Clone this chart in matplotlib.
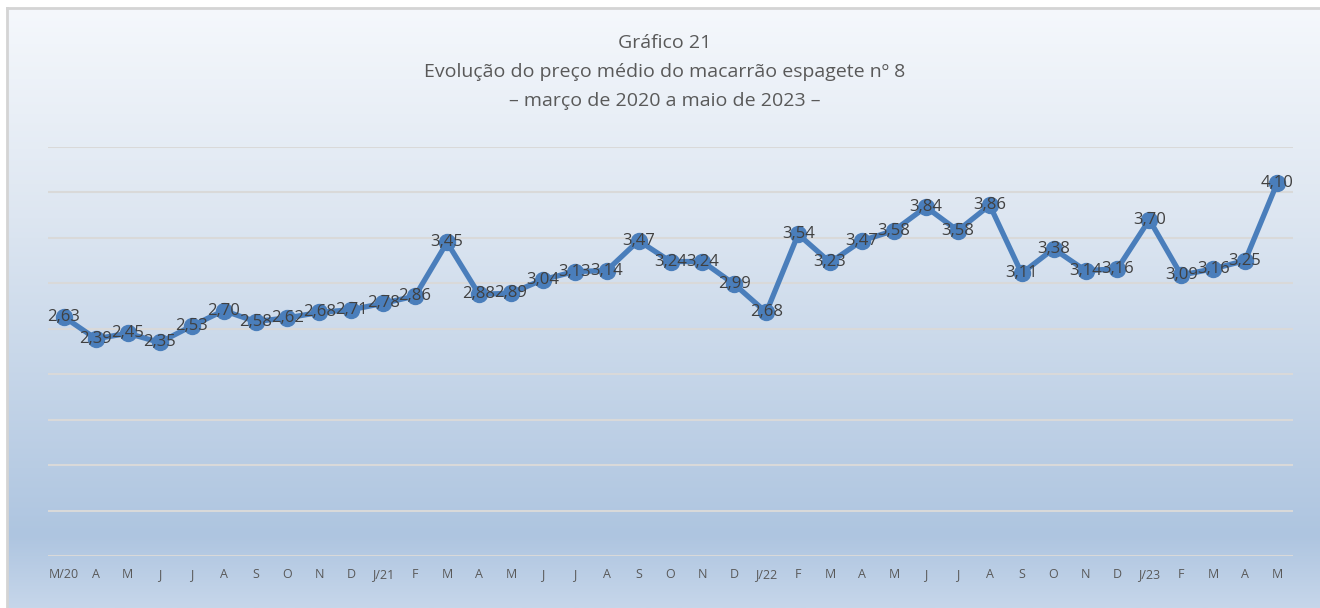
import numpy as np
import matplotlib.pyplot as plt
from matplotlib.colors import LinearSegmentedColormap

# months from march 2020 to may 2023
months = ['M/20', 'A', 'M', 'J', 'J', 'A', 'S', 'O', 'N', 'D',
          'J/21', 'F', 'M', 'A', 'M', 'J', 'J', 'A', 'S', 'O', 'N', 'D',
          'J/22', 'F', 'M', 'A', 'M', 'J', 'J', 'A', 'S', 'O', 'N', 'D',
          'J/23', 'F', 'M', 'A', 'M']
prices = [2.63, 2.39, 2.45, 2.35, 2.53, 2.70, 2.58, 2.62, 2.68, 2.71,
          2.78, 2.86, 3.45, 2.88, 2.89, 3.04, 3.13, 3.14, 3.47, 3.24, 3.24, 2.99,
          2.68, 3.54, 3.23, 3.47, 3.58, 3.84, 3.58, 3.86, 3.11, 3.38, 3.14, 3.16,
          3.70, 3.09, 3.16, 3.25, 4.10]
title_lines = ['Gráfico 21',
               'Evolução do preço médio do macarrão espagete nº 8',
               '– março de 2020 a maio de 2023 –']

plt.rcParams['font.family'] = ['Open Sans', 'DejaVu Sans']

W, H = 1320, 608
fig = plt.figure(figsize=(W / 100, H / 100), dpi=100)
fig.patch.set_facecolor('white')

# gradient background with light grey frame (cut at right and bottom)
bg = fig.add_axes([7 / W, 0, 1, (H - 8) / H])
cmap = LinearSegmentedColormap.from_list(
    'bg', [(0.0, '#f5f8fc'), (0.35, '#dde6f1'), (0.88, '#aec5e0'), (1.0, '#c6d6ea')])
grad = np.linspace(0, 1, 256).reshape(-1, 1)
bg.imshow(grad, aspect='auto', cmap=cmap, extent=[0, 1, 0, 1], origin='upper')
bg.set_xlim(0, 1)
bg.set_ylim(0, 1)
bg.set_xticks([])
bg.set_yticks([])
for side in ['right', 'bottom']:
    bg.spines[side].set_visible(False)
for side in ['left', 'top']:
    bg.spines[side].set_color('#d4d4d4')
    bg.spines[side].set_linewidth(2)

ax = fig.add_axes([48 / W, (H - 556) / H, 1245 / W, 409 / H])
ax.patch.set_alpha(0)
x = np.arange(len(prices))

ax.set_xlim(-0.5, len(prices) - 0.5)
ax.set_ylim(0, 4.5)
ax.set_yticks(np.arange(0, 4.51, 0.5))
ax.yaxis.grid(True, color='#d9d9d9', linewidth=1.5)
ax.set_axisbelow(True)
ax.tick_params(axis='y', left=False, labelleft=False)
for side in ['left', 'right', 'top', 'bottom']:
    ax.spines[side].set_visible(False)

ax.set_xticks(x)
ax.set_xticklabels(months, fontsize=9, color='#595959')
ax.tick_params(axis='x', length=0, pad=9)

ax.plot(x, prices, color='#4a7ebb', linewidth=3.8, marker='o',
        markersize=11.5, markerfacecolor='#4a7ebb', markeredgecolor='#4a7ebb',
        zorder=3, clip_on=False)

for xi, v in zip(x, prices):
    ax.text(xi, v, f'{v:.2f}'.replace('.', ','), ha='center', va='center',
            fontsize=12, color='#404040', zorder=4)

fig.text(665 / W, 1 - 72 / H, '\n'.join(title_lines), ha='center',
         va='center', fontsize=14, color='#595959', linespacing=1.77)

fig.savefig('out.png', dpi=100)
